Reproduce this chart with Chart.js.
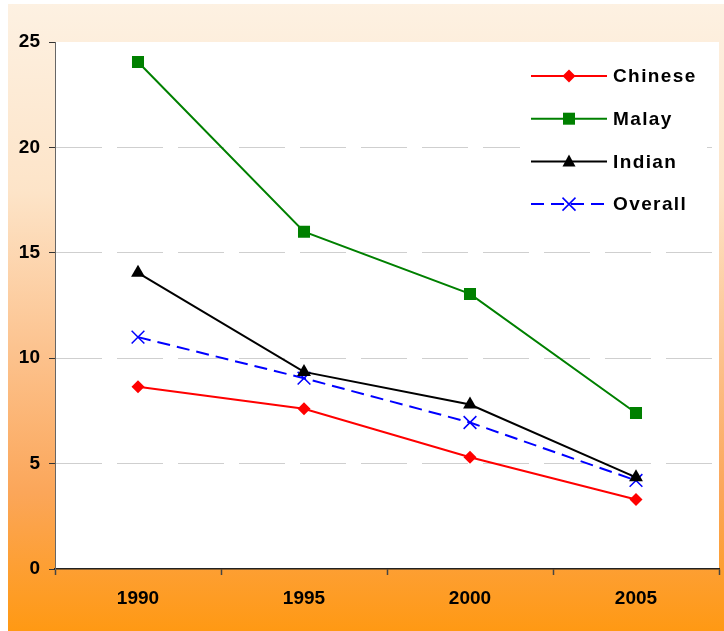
<!DOCTYPE html>
<html>
<head>
<meta charset="utf-8">
<script src="https://cdn.jsdelivr.net/npm/chart.js@4.4.1/dist/chart.umd.min.js"></script>
<style>
  html, body { margin: 0; padding: 0; background: #fff; }
  #wrap { width: 724px; height: 631px; }
</style>
</head>
<body>
<div id="wrap"><canvas id="myChart" width="724" height="631"></canvas></div>
<script>
// donnees
let years = ["1990", "1995", "2000", "2005"];
let chinese = [8.65, 7.6, 5.3, 3.3];
let malay = [24.05, 16.0, 13.05, 7.4];
let indian = [14.05, 9.35, 7.8, 4.35];
let overall = [11.0, 9.05, 6.95, 4.2];
let yTicks = [0, 5, 10, 15, 20, 25];

// fond degrade + zone blanche du graphique
const fondPlugin = {
  id: "fond",
  beforeDraw(chart) {
    const ctx = chart.ctx;
    const a = chart.chartArea;
    ctx.save();
    let g = ctx.createLinearGradient(0, 4, 0, 631);
    g.addColorStop(0, "#FDF1E2");
    g.addColorStop(0.3, "#FDE4C8");
    g.addColorStop(0.55, "#FCC38F");
    g.addColorStop(0.78, "#FBA659");
    g.addColorStop(1, "#FF9913");
    ctx.fillStyle = g;
    ctx.fillRect(8, 4, 716, 627);
    ctx.fillStyle = "#fff";
    ctx.fillRect(a.left, a.top, a.right - a.left, a.bottom - a.top);
    ctx.restore();
  },
};

// petit marqueur pour la legende
function marqueur(ctx, style, x, y, couleur) {
  ctx.save();
  ctx.fillStyle = couleur;
  ctx.strokeStyle = couleur;
  ctx.beginPath();
  if (style === "rectRot") {
    ctx.moveTo(x, y - 6.5);
    ctx.lineTo(x + 6.5, y);
    ctx.lineTo(x, y + 6.5);
    ctx.lineTo(x - 6.5, y);
    ctx.closePath();
    ctx.fill();
  } else if (style === "rect") {
    ctx.fillRect(x - 6, y - 6, 12, 12);
  } else if (style === "triangle") {
    ctx.moveTo(x, y - 7);
    ctx.lineTo(x + 6.5, y + 5);
    ctx.lineTo(x - 6.5, y + 5);
    ctx.closePath();
    ctx.fill();
  } else {
    ctx.lineWidth = 1.5;
    ctx.moveTo(x - 6.5, y - 6.5);
    ctx.lineTo(x + 6.5, y + 6.5);
    ctx.moveTo(x + 6.5, y - 6.5);
    ctx.lineTo(x - 6.5, y + 6.5);
    ctx.stroke();
  }
  ctx.restore();
}

const legendePlugin = {
  id: "legende",
  afterDraw(chart) {
    const ctx = chart.ctx;
    ctx.save();
    ctx.fillStyle = "#fff";
    ctx.fillRect(520, 52, 187, 175);
    chart.data.datasets.forEach((ds, i) => {
      let y = 76 + i * 42.7;
      ctx.strokeStyle = ds.borderColor;
      ctx.lineWidth = ds.borderWidth;
      ctx.setLineDash(ds.borderDash || []);
      ctx.beginPath();
      ctx.moveTo(531, y);
      ctx.lineTo(607, y);
      ctx.stroke();
      ctx.setLineDash([]);
      marqueur(ctx, ds.pointStyle, 569, y, ds.borderColor);
      ctx.fillStyle = "#000";
      ctx.font = "bold 19px 'Liberation Sans', Arial, sans-serif";
      ctx.letterSpacing = "1.4px";
      ctx.textBaseline = "middle";
      ctx.textAlign = "left";
      ctx.fillText(ds.label, 613, y + 1);
      ctx.letterSpacing = "0px";
    });
    ctx.restore();
  },
};

const Graphique = document.getElementById("myChart").getContext("2d");
const myChart = new Chart(Graphique, {
  type: "line",
  data: {
    labels: years,
    datasets: [
      {
        label: "Chinese",
        data: chinese,
        borderColor: "#FF0000",
        backgroundColor: "#FF0000",
        borderWidth: 2,
        pointStyle: "rectRot",
        pointRadius: 6.5,
        pointBorderWidth: 0,
      },
      {
        label: "Malay",
        data: malay,
        borderColor: "#008000",
        backgroundColor: "#008000",
        borderWidth: 2,
        pointStyle: "rect",
        pointRadius: 8.5,
        pointBorderWidth: 0,
      },
      {
        label: "Indian",
        data: indian,
        borderColor: "#000000",
        backgroundColor: "#000000",
        borderWidth: 2,
        pointStyle: "triangle",
        pointRadius: 8,
        pointBorderWidth: 0,
      },
      {
        label: "Overall",
        data: overall,
        borderColor: "#0000FF",
        backgroundColor: "#0000FF",
        borderWidth: 2,
        borderDash: [13, 7],
        pointStyle: "crossRot",
        pointRadius: 9,
        pointBorderWidth: 1.5,
      },
    ],
  },
  options: {
    responsive: false,
    animation: false,
    layout: { autoPadding: false, padding: { top: 42, right: 5, left: 0, bottom: 0 } },
    plugins: {
      legend: { display: false },
      tooltip: { enabled: false },
    },
    scales: {
      x: {
        offset: true,
        afterFit: (scale) => {
          scale.height = 62;
          scale.paddingLeft = 0;
          scale.paddingRight = 0;
        },
        grid: {
          offset: true,
          drawOnChartArea: false,
          drawTicks: true,
          tickLength: 6,
          tickColor: "#444",
          tickWidth: 1.5,
        },
        border: { color: "#222", width: 1.5 },
        ticks: {
          color: "#000",
          padding: 12,
          font: { family: "'Liberation Sans', Arial", size: 19, weight: "bold" },
        },
      },
      y: {
        min: 0,
        max: 25,
        afterFit: (scale) => { scale.width = 55; },
        afterBuildTicks: (scale) => { scale.ticks = yTicks.map((v) => ({ value: v })); },
        grid: {
          color: (c) => (c.tick && (c.tick.value === 0 || c.tick.value === 25) ? "rgba(0,0,0,0)" : "#CFCFCF"),
          tickColor: "#333",
          tickLength: 6,
          tickBorderDash: [],
        },
        border: { color: "#666", width: 1, dash: [46, 15], dashOffset: 0 },
        ticks: {
          color: "#000",
          padding: 9,
          font: { family: "'Liberation Sans', Arial", size: 19, weight: "bold" },
        },
      },
    },
  },
  plugins: [fondPlugin, legendePlugin],
});
</script>
</body>
</html>
